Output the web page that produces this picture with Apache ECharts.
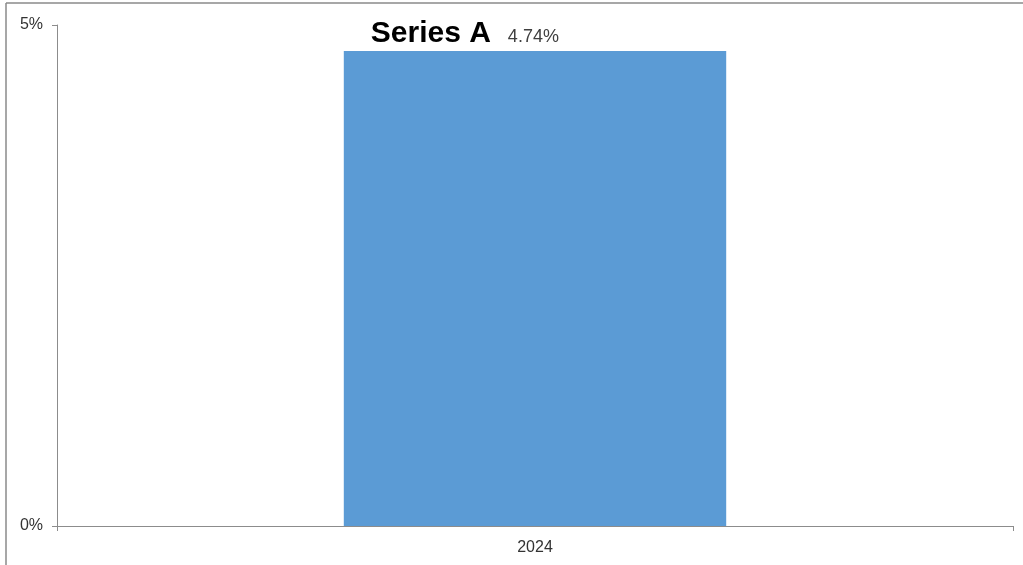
<!DOCTYPE html>
<html>
<head>
<meta charset="utf-8">
<script src="https://cdn.jsdelivr.net/npm/echarts@6/dist/echarts.min.js"></script>
<style>
html,body{margin:0;padding:0;background:#fff;}
#c{width:1023px;height:565px;}
</style>
</head>
<body>
<div id="c"></div>
<script>
const categories = ['2024'];
const seriesName = 'Series A';
const values = [4.74];
const yTicks = [0, 5];

const chart = echarts.init(document.getElementById('c'));
const axisColor = '#8c8c8c';
chart.setOption({
  animation: false,
  backgroundColor: '#fff',
  grid: {left: 57, right: 10, top: 25, bottom: 39},
  graphic: [
    {type: 'line', shape: {x1: 6, y1: 3, x2: 1023, y2: 3}, style: {stroke: '#8a8a8a', lineWidth: 1.5}},
    {type: 'line', shape: {x1: 6, y1: 3, x2: 6, y2: 565}, style: {stroke: '#8a8a8a', lineWidth: 1.5}}
  ],
  xAxis: {
    type: 'category',
    data: categories,
    boundaryGap: true,
    axisLine: {show: true, lineStyle: {color: axisColor, width: 1}},
    axisTick: {show: true, length: 5, lineStyle: {color: axisColor}},
    axisLabel: {color: '#333', fontSize: 16, margin: 14, fontFamily: 'Liberation Sans, Arial, sans-serif'},
    splitLine: {show: false}
  },
  yAxis: {
    type: 'value',
    min: yTicks[0],
    max: yTicks[yTicks.length - 1],
    interval: yTicks[1] - yTicks[0],
    axisLine: {show: true, lineStyle: {color: axisColor, width: 1}},
    axisTick: {show: true, length: 5, lineStyle: {color: axisColor}},
    axisLabel: {color: '#333', fontSize: 16, margin: 14, formatter: '{value}%', fontFamily: 'Liberation Sans, Arial, sans-serif'},
    splitLine: {show: false}
  },
  series: [{
    name: seriesName,
    type: 'bar',
    data: values,
    barWidth: '40%',
    itemStyle: {color: '#5B9BD5'},
    label: {
      show: true,
      position: [27, -19],
      align: 'left',
      verticalAlign: 'middle',
      formatter: function (p) { return '{a|' + p.seriesName + '}{b|' + p.value.toFixed(2) + '%}'; },
      rich: {
        a: {fontSize: 30, fontWeight: 'bold', color: '#000', fontFamily: 'Liberation Sans, Arial, sans-serif', verticalAlign: 'bottom', lineHeight: 34},
        b: {fontSize: 18, color: '#404040', fontFamily: 'Liberation Sans, Arial, sans-serif', verticalAlign: 'bottom', lineHeight: 34, padding: [0, 0, 3, 17]}
      }
    }
  }]
});
</script>
</body>
</html>
